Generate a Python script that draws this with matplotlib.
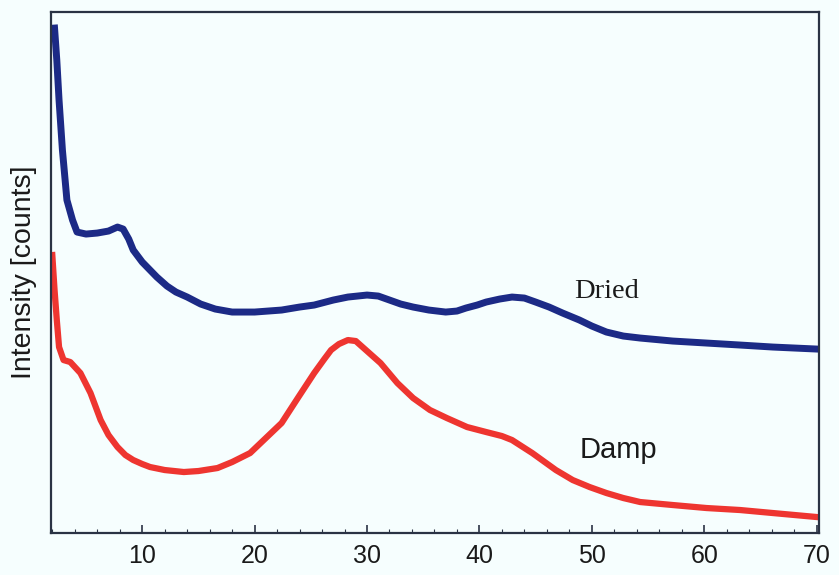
import matplotlib
matplotlib.use('Agg')
import matplotlib.pyplot as plt
from matplotlib.ticker import MultipleLocator, NullLocator

BG = '#F6FEFE'
BLUE = '#1C2A86'
RED = '#EE3530'
SPINE = '#2A3344'

# Dried sample: 2-theta (deg) and intensity (arbitrary counts)
dried_x = [2.2, 2.4, 2.6, 2.9, 3.3, 3.8, 4.2, 5.0, 6.0, 7.0, 7.8, 8.3, 8.8, 9.2,
           10.0, 11.3, 12.2, 13.0, 14.0, 15.2, 16.5, 18.0, 20.0, 22.4, 24.0,
           25.3, 27.0, 28.3, 30.0, 31.0, 32.0, 33.0, 34.1, 35.5, 37.0, 38.0,
           38.8, 39.8, 40.6, 41.8, 42.9, 44.0, 45.0, 46.2, 47.4, 48.9, 50.0,
           51.3, 52.8, 54.3, 57.2, 60.2, 63.2, 66.1, 70.0]
dried_y = [505, 473, 433, 383, 333, 313, 301, 299, 300, 302, 306, 304, 294, 283,
           271, 256, 247, 241, 236, 229, 224, 221, 221, 223, 226,
           228, 233, 236, 238, 237, 233, 229, 226, 223, 221, 222,
           225, 228, 231, 234, 236, 235, 231, 226, 220, 213, 207,
           201, 197, 195, 192, 190, 188, 186, 184]

# Damp sample
damp_x = [2.0, 2.2, 2.4, 2.6, 3.0, 3.6, 4.5, 5.4, 6.3, 7.0, 7.8, 8.5, 9.2,
          10.0, 10.7, 12.0, 13.7, 15.0, 16.7, 18.0, 19.6, 21.0, 22.4, 23.9,
          25.3, 26.2, 26.8, 27.5, 28.3, 29.0, 29.4, 30.2, 31.2, 32.7, 34.1,
          35.6, 37.1, 38.9, 40.6, 42.0, 42.9, 44.7, 46.8, 48.3, 49.8, 51.3,
          52.8, 54.3, 57.2, 60.2, 63.2, 66.1, 70.0]
damp_y = [278, 243, 213, 186, 173, 171, 160, 140, 113, 98, 86, 78, 73,
          69, 66, 63, 61, 62, 65, 71, 80, 95, 110, 136,
          160, 174, 183, 189, 193, 192, 188, 180, 170, 150, 135,
          123, 115, 106, 101, 97, 93, 80, 63, 53, 46, 40,
          35, 31, 28, 25, 23, 20, 16]

fig = plt.figure(figsize=(8.39, 5.75), dpi=100, facecolor=BG)
ax = fig.add_axes([0.061, 0.073, 0.915, 0.906])
ax.set_facecolor(BG)

ax.plot(dried_x, dried_y, color=BLUE, lw=5, solid_joinstyle='round')
ax.plot(damp_x, damp_y, color=RED, lw=4.5, solid_joinstyle='round')

ax.text(51.3, 235, 'Dried', fontsize=20.5, family='Liberation Serif',
        color='#1A1A1A', ha='center', va='baseline')
ax.text(52.4, 75, 'Damp', fontsize=21, family='Liberation Sans',
        color='#1A1A1A', ha='center', va='baseline')

ax.set_xlim(1.9, 70.2)
ax.set_ylim(0, 521)
ax.xaxis.set_major_locator(MultipleLocator(10))
ax.xaxis.set_minor_locator(MultipleLocator(2))
ax.yaxis.set_major_locator(NullLocator())
ax.tick_params(axis='x', which='major', direction='in', length=6, width=1.2,
               colors=SPINE, labelsize=18, labelcolor='#1A1A1A', pad=8)
ax.tick_params(axis='x', which='minor', direction='in', length=3, width=0.8,
               colors=SPINE)
for lab in ax.get_xticklabels():
    lab.set_family('Liberation Sans')

for s in ax.spines.values():
    s.set_color(SPINE)
    s.set_linewidth(1.6)

ax.set_ylabel('Intensity [counts]', fontsize=20.5, family='Liberation Sans',
              color='#1A1A1A', labelpad=10)

fig.savefig('out.png', dpi=100, facecolor=BG)
